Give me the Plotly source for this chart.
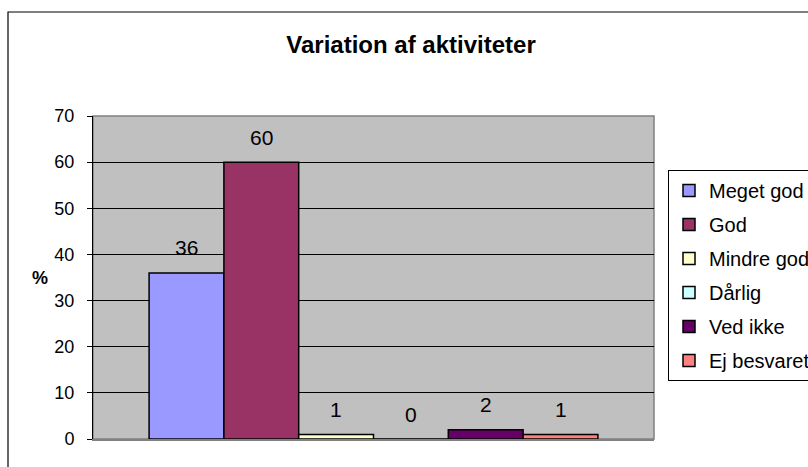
import plotly.graph_objects as go

# Survey answers, percent of respondents
categories = ["Meget god", "God", "Mindre god", "Dårlig", "Ved ikke", "Ej besvaret"]
values = [36, 60, 1, 0, 2, 1]
colors = ["#9999FF", "#993366", "#FFFFCC", "#CCFFFF", "#660066", "#FF8080"]
y_ticks = [0, 10, 20, 30, 40, 50, 60, 70]

FONT = "Arial, Liberation Sans, sans-serif"
W, H = 808, 467
L, R, T, B = 93, 154, 116, 28
plot_w, plot_h = W - L - R, H - T - B

fig = go.Figure()
for name, val, col in zip(categories, values, colors):
    fig.add_trace(go.Bar(
        x=[0], y=[val], name=name, legendgroup=name,
        marker=dict(color=col, line=dict(color="black", width=1.5)),
        hoverinfo="name+y",
    ))

# value labels above each bar of the single group
bargap = 0.2
n = len(values)
slot = (1 - bargap) / n
for i, val in enumerate(values):
    xc = -0.5 + bargap / 2 + (i + 0.5) * slot
    fig.add_annotation(
        x=xc, y=val, xref="x", yref="y", text=str(val), showarrow=False,
        yshift=25, font=dict(family=FONT, size=21, color="black"),
    )

# axis label
fig.add_annotation(
    x=(40 - L) / plot_w, y=(H - B - 278) / plot_h, xref="paper", yref="paper",
    text="<b>%</b>", showarrow=False, xanchor="center",
    font=dict(family=FONT, size=18, color="black"),
)

# plot area frame (gray) and outer chart frame (black)
fig.add_shape(type="rect", xref="paper", yref="paper", x0=0, y0=0, x1=1, y1=1,
              line=dict(color="#808080", width=1.5), layer="below")
fig.add_shape(type="rect", xref="paper", yref="paper",
              x0=(8 - L) / plot_w, y0=(H - B - (H + 20)) / plot_h,
              x1=(W + 20 - L) / plot_w, y1=(H - B - 12) / plot_h,
              line=dict(color="black", width=1.2))

fig.update_layout(
    width=W, height=H,
    margin=dict(l=L, r=R, t=T, b=B, autoexpand=False),
    paper_bgcolor="white", plot_bgcolor="#C0C0C0",
    barmode="group", bargap=bargap, bargroupgap=0,
    font=dict(family=FONT, size=18, color="black"),
    title=dict(text="<b>Variation af aktiviteter</b>", x=411 / W, xanchor="center",
               y=1 - 45 / H, yanchor="middle",
               font=dict(family=FONT, size=24, color="black")),
    xaxis=dict(range=[-0.5, 0.5], showticklabels=False, showgrid=False,
               zeroline=False, showline=True, linecolor="#808080", linewidth=1.5,
               ticks=""),
    yaxis=dict(range=[0, 70], tickvals=y_ticks, showgrid=True, gridcolor="black",
               gridwidth=1, zeroline=False, showline=True, linecolor="black",
               linewidth=1, ticks="outside", ticklen=5, tickcolor="black",
               ticklabelstandoff=9,
               tickfont=dict(family=FONT, size=18, color="black")),
    legend=dict(x=(668 - L) / plot_w, xanchor="left", y=(H - B - 170) / plot_h,
                yanchor="top", bordercolor="black", borderwidth=1, bgcolor="white",
                tracegroupgap=5, itemwidth=30, entrywidth=140,
                font=dict(family=FONT, size=20, color="black")),
    showlegend=True,
)

fig.write_html("out.html")
